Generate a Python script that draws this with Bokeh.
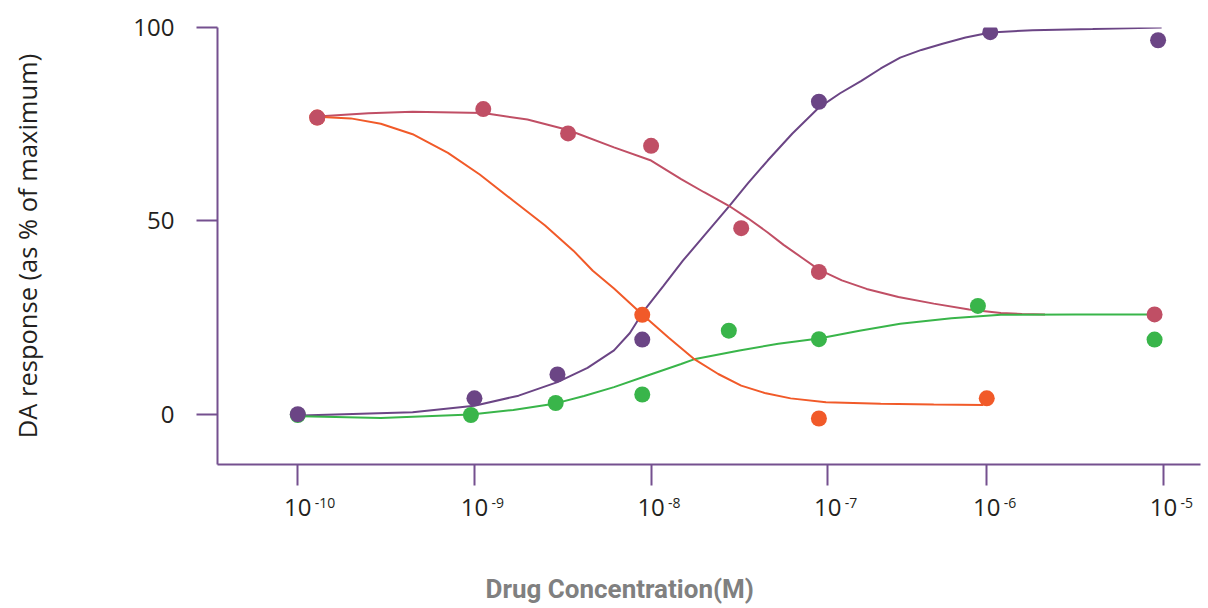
from bokeh.plotting import figure
from bokeh.models import FixedTicker, LinearAxis, Range1d, Title
from bokeh.embed import file_html
from bokeh.resources import INLINE

# x values are log10 of concentration as placed on the drawn axis
tick_pos = [-10, -9, -8, -7, -6.1, -5.1]
tick_base = ["10", "10", "10", "10", "10", "10"]
tick_exp = ["-10", "-9", "-8", "-7", "-6", "-5"]
y_ticks = [0, 50, 100]

# measured points
purple_x = [-10.0, -9.0, -8.53, -8.05, -7.05, -6.08, -5.13]
purple_y = [0.0, 4.1, 10.3, 19.3, 80.8, 98.8, 96.7]
green_x = [-10.0, -9.02, -8.54, -8.05, -7.56, -7.05, -6.15, -5.15]
green_y = [-0.2, -0.2, 2.9, 5.1, 21.6, 19.4, 28.0, 19.3]
rose_x = [-9.89, -8.95, -8.47, -8.0, -7.49, -7.05, -5.15]
rose_y = [76.7, 78.9, 72.6, 69.4, 48.1, 36.8, 25.8]
orange_x = [-9.89, -8.05, -7.05, -6.10]
orange_y = [76.7, 25.7, -1.1, 4.1]

# fitted curves
purple_cx = [-9.98, -9.35, -9.0, -8.75, -8.53, -8.36, -8.21, -8.12, -8.04, -7.93, -7.82, -7.69, -7.56,
             -7.45, -7.34, -7.2, -7.05, -6.93, -6.81, -6.7, -6.59, -6.47, -6.35, -6.22, -6.08, -5.84, -5.5, -5.11]
purple_cy = [-0.3, 0.5, 2.2, 4.8, 8.3, 12.0, 16.5, 21.0, 26.8, 33.2, 39.7, 46.7, 53.7,
             59.8, 65.6, 72.6, 79.3, 83.0, 86.2, 89.4, 92.2, 94.2, 95.8, 97.4, 98.7, 99.3, 99.6, 100.0]
rose_cx = [-9.89, -9.6, -9.35, -8.95, -8.7, -8.47, -8.21, -8.0, -7.83, -7.7, -7.56, -7.45, -7.34,
           -7.25, -7.15, -7.05, -6.92, -6.78, -6.6, -6.4, -6.2, -6.02, -5.9, -5.77]
rose_cy = [77.0, 77.8, 78.2, 77.9, 76.2, 73.5, 69.0, 65.6, 60.8, 57.4, 53.9, 50.6, 47.0,
           43.8, 40.6, 37.4, 34.6, 32.4, 30.3, 28.6, 27.1, 26.2, 25.9, 25.8]
green_cx = [-9.98, -9.53, -9.02, -8.78, -8.54, -8.38, -8.21, -8.02, -7.83, -7.75, -7.5, -7.28, -7.05,
            -6.82, -6.59, -6.3, -6.02, -5.6, -5.19]
green_cy = [-0.5, -1.0, -0.1, 1.1, 2.8, 4.7, 7.0, 10.0, 13.0, 14.3, 16.5, 18.2, 19.6,
            21.6, 23.4, 24.8, 25.7, 25.8, 25.8]
orange_cx = [-9.89, -9.7, -9.53, -9.35, -9.15, -8.97, -8.78, -8.6, -8.44, -8.33, -8.21, -8.05, -7.9, -7.76,
             -7.62, -7.49, -7.35, -7.21, -7.01, -6.7, -6.4, -6.12]
orange_cy = [76.9, 76.5, 75.1, 72.4, 67.6, 62.0, 55.2, 48.8, 42.3, 37.1, 32.5, 25.8, 19.8, 14.4,
             10.4, 7.4, 5.4, 4.1, 3.1, 2.7, 2.5, 2.4]

AXIS = "#75508f"
PURPLE = "#6b4585"
ROSE = "#c04f65"
ORANGE = "#f15a29"
GREEN = "#39b54a"
TEXT = "#231f20"
TITLE_FONT = "Roboto, sans-serif"

p = figure(width=1208, height=608, output_backend="svg", toolbar_location=None,
           x_range=Range1d(-10.4545, -4.890), y_range=Range1d(-13.0, 100.0),
           min_border_left=217, min_border_top=27, min_border_right=8, min_border_bottom=144)
p.grid.visible = False
p.outline_line_color = None
p.background_fill_color = "white"
p.border_fill_color = "white"

for ax in (p.xaxis[0], p.yaxis[0]):
    ax.axis_line_color = AXIS
    ax.axis_line_width = 2
    ax.major_tick_line_color = AXIS
    ax.major_tick_line_width = 2
    ax.major_tick_out = 21
    ax.major_tick_in = 0
    ax.minor_tick_line_color = None
    ax.major_label_text_font = "Open Sans"
    ax.major_label_text_font_size = "24px"
    ax.major_label_text_color = TEXT

p.xaxis.ticker = FixedTicker(ticks=tick_pos)
p.xaxis.major_label_overrides = {t: b for t, b in zip(tick_pos, tick_base)}
p.xaxis.major_label_standoff = 13

p.yaxis.ticker = FixedTicker(ticks=y_ticks)
p.yaxis.major_label_standoff = 22
p.yaxis.axis_label = "DA response (as % of maximum)"
p.yaxis.axis_label_text_font = "Open Sans"
p.yaxis.axis_label_text_font_style = "normal"
p.yaxis.axis_label_text_font_size = "25.5px"
p.yaxis.axis_label_text_color = TEXT
p.yaxis.axis_label_standoff = 86

# exponent row of the tick labels: a second, line-less axis pulled up next to the "10"s
px_per_unit = 983.0 / (-4.890 + 10.4545)
char_w = {"-": 4.5, "1": 8.0, "0": 8.0, "5": 8.0, "6": 8.0, "7": 8.0, "8": 8.0, "9": 8.0}
exp_pos = []
for t, e in zip(tick_pos, tick_exp):
    w = sum(char_w[c] for c in e)
    exp_pos.append(t + (17.0 + w / 2) / px_per_unit)
exp_axis = LinearAxis(ticker=FixedTicker(ticks=exp_pos),
                      major_label_overrides={x: e for x, e in zip(exp_pos, tick_exp)},
                      axis_line_color=None, major_tick_line_color=None, minor_tick_line_color=None,
                      major_tick_out=0, major_tick_in=0, major_label_standoff=-21,
                      major_label_text_font="Open Sans", major_label_text_font_size="14px",
                      major_label_text_color=TEXT)
p.add_layout(exp_axis, "below")

# blank spacer between the tick labels and the axis title (invisible tick)
spacer = LinearAxis(ticker=FixedTicker(ticks=[-8.0]), major_label_overrides={-8.0: ""},
                    axis_line_color=None, major_tick_line_color="white", major_tick_line_alpha=0.0,
                    minor_tick_line_color=None,
                    major_tick_out=48, major_tick_in=0, major_label_standoff=0,
                    major_label_text_font_size="1px")
p.add_layout(spacer, "below")

# axis title, placed where the reference puts it
p.add_layout(Title(text="Drug Concentration(M)", align="left", offset=268, standoff=10,
                   text_font=TITLE_FONT, text_font_style="bold", text_font_size="26px",
                   text_color="#808080"), "below")

# curves
p.line(purple_cx, purple_cy, line_color=PURPLE, line_width=2)
p.line(rose_cx, rose_cy, line_color=ROSE, line_width=2)
p.line(green_cx, green_cy, line_color=GREEN, line_width=2)
p.line(orange_cx, orange_cy, line_color=ORANGE, line_width=2)

# points
p.scatter(green_x, green_y, size=16, fill_color=GREEN, line_color=None)
p.scatter(purple_x, purple_y, size=16, fill_color=PURPLE, line_color=None)
p.scatter(orange_x, orange_y, size=16, fill_color=ORANGE, line_color=None)
p.scatter(rose_x, rose_y, size=16, fill_color=ROSE, line_color=None)

open("out.html", "w").write(file_html(p, INLINE))
